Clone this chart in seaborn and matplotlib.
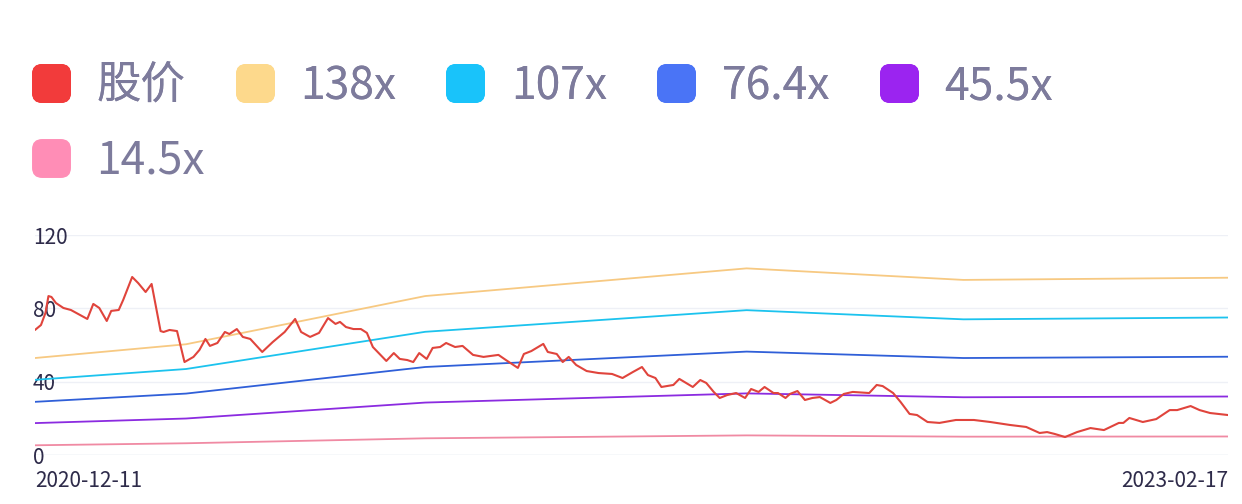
import numpy as np
import pandas as pd
import seaborn as sns
import matplotlib.pyplot as plt
from matplotlib.lines import Line2D
from matplotlib.patches import FancyBboxPatch

# ---- data ----
start_date = pd.Timestamp('2020-12-11')
end_date = pd.Timestamp('2023-02-17')

# days since 2020-12-11, and share price
price_days = [0, 4, 7, 9, 11, 14, 19, 24, 30, 35, 39, 43, 48, 51, 56, 59, 65, 69, 74, 78,
              84, 86, 90, 95, 100, 106, 110, 114, 117, 122, 127, 130, 135, 139, 144, 152,
              159, 167, 174, 178, 184, 190, 196, 201, 204, 208, 213, 218, 222, 226, 235,
              240, 244, 249, 253, 257, 262, 266, 271, 275, 281, 286, 293, 300, 310, 315,
              323, 327, 332, 340, 343, 349, 353, 357, 362, 369, 377, 386, 393, 400, 406,
              410, 415, 419, 427, 431, 440, 445, 449, 454, 458, 463, 469, 475, 479, 484,
              488, 494, 497, 502, 505, 510, 515, 520, 525, 532, 536, 541, 547, 558, 563,
              567, 574, 579, 585, 590, 597, 605, 616, 628, 639, 652, 663, 672, 677, 682,
              689, 697, 706, 715, 725, 728, 732, 741, 750, 759, 764, 773, 779, 786, 798]
price_vals = [68.2, 70.9, 77.5, 86.7, 86.2, 82.9, 80.2, 79.1, 76.4, 74.2, 82.4, 80.2, 73.1,
              78.6, 79.1, 84.6, 97.1, 93.8, 88.9, 93.3, 67.6, 67.1, 68.2, 67.6, 50.7, 53.5,
              57.3, 63.3, 59.5, 61.1, 67.1, 66.0, 68.7, 64.4, 63.3, 56.2, 61.6, 67.1, 74.2,
              67.1, 64.4, 66.6, 74.7, 71.5, 72.6, 69.8, 68.7, 68.7, 66.6, 58.9, 51.3, 55.6,
              52.4, 51.8, 50.7, 55.6, 52.4, 58.4, 58.9, 61.1, 58.9, 59.5, 54.6, 53.5, 54.6,
              51.8, 47.5, 55.1, 56.7, 60.6, 56.2, 55.1, 50.7, 53.5, 49.1, 45.8, 44.7, 44.2,
              42.0, 45.3, 48.0, 43.6, 42.0, 37.1, 38.2, 41.5, 37.1, 40.9, 39.3, 34.4, 31.1,
              32.7, 33.8, 31.1, 36.0, 34.4, 37.1, 33.8, 33.8, 31.1, 33.3, 34.9, 30.0, 31.1,
              31.6, 28.4, 30.0, 33.3, 34.4, 33.8, 38.2, 37.6, 33.8, 28.9, 22.4, 21.8, 18.0,
              17.5, 19.1, 19.1, 18.0, 16.4, 15.3, 12.0, 12.5, 11.5, 9.8, 12.5, 14.7, 13.6,
              17.5, 17.5, 20.2, 18.0, 19.6, 24.5, 24.5, 26.7, 24.5, 22.9, 21.8]

# PE band knots (days since start)
band_days = [0, 101, 261, 476, 621, 798]
band_labels = ['138x', '107x', '76.4x', '45.5x', '14.5x']
band_138 = [52.9, 60.4, 86.7, 101.8, 95.5, 96.7]
band_107 = [41.0, 46.9, 67.2, 79.0, 74.0, 75.0]
band_764 = [29.0, 33.5, 48.0, 56.4, 52.9, 53.6]
band_455 = [17.4, 19.9, 28.6, 33.6, 31.5, 31.9]
band_145 = [5.3, 6.4, 9.1, 10.7, 10.0, 10.1]

price_label = '股价'
y_ticks = [0, 40, 80, 120]

# ---- styling ----
line_colors = ['#e0443c', '#f7c982', '#1cc3ee', '#2f5fd8', '#8b2be0', '#f08aa3']
legend_colors = ['#f23b3b', '#fdd98c', '#19c3fa', '#4a74f6', '#9b24f0', '#ff8db6']
text_color = '#7d7b9c'
tick_color = '#2e2b4a'

sns.set_theme(style='white')
plt.rcParams['font.family'] = ['Noto Sans CJK SC', 'DejaVu Sans']

price_df = pd.DataFrame({
    'date': start_date + pd.to_timedelta(price_days, unit='D'),
    'value': price_vals,
})
band_df = pd.DataFrame({
    'date': np.tile(start_date + pd.to_timedelta(band_days, unit='D'), 5),
    'value': band_138 + band_107 + band_764 + band_455 + band_145,
    'band': np.repeat(band_labels, len(band_days)),
})

fig = plt.figure(figsize=(12.42, 5.04), dpi=100, facecolor='white')
ax = fig.add_axes([35 / 1242, 49 / 504, 1193 / 1242, 220 / 504])

sns.lineplot(data=band_df, x='date', y='value', hue='band', hue_order=band_labels,
             palette=line_colors[1:], linewidth=1.3, legend=False, ax=ax)
sns.lineplot(data=price_df, x='date', y='value', color=line_colors[0],
             linewidth=1.5, legend=False, ax=ax)

ax.set_xlim(start_date, end_date)
ax.set_ylim(0, 120)
ax.set_yticks(y_ticks)
ax.set_yticklabels([str(t) for t in y_ticks])
ax.grid(axis='y', color='#eef0f6', linewidth=1)
ax.set_axisbelow(True)
for s in ax.spines.values():
    s.set_visible(False)
ax.axhline(0, color='#e4e7f0', linewidth=1, zorder=0)
ax.tick_params(axis='y', length=0, pad=1.5, labelsize=15, labelcolor=tick_color)
for lab in ax.get_yticklabels():
    lab.set_horizontalalignment('left')

ax.set_xticks([start_date, end_date])
ax.set_xticklabels(['2020-12-11', '2023-02-17'])
ax.tick_params(axis='x', length=0, pad=11, labelsize=15, labelcolor=tick_color)
xl = ax.get_xticklabels()
xl[0].set_horizontalalignment('left')
xl[1].set_horizontalalignment('right')
ax.set_xlabel('')
ax.set_ylabel('')

# ---- legend with rounded-square markers ----
rounded = FancyBboxPatch((-1, -1), 2, 2,
                         boxstyle='round,pad=0,rounding_size=0.5').get_path()
names = [price_label] + band_labels
handles = [Line2D([], [], linestyle='none', marker=rounded, markersize=27,
                  markerfacecolor=c, markeredgecolor=c) for c in legend_colors]

leg1 = fig.legend(handles[:5], names[:5], ncol=5, loc='center left',
                  bbox_to_anchor=(32 / 1242, 1 - 86 / 504), frameon=False,
                  fontsize=32, labelcolor=text_color, handlelength=0.85,
                  handletextpad=0.6, columnspacing=1.13, borderpad=0,
                  borderaxespad=0)
leg2 = fig.legend(handles[5:], names[5:], ncol=1, loc='center left',
                  bbox_to_anchor=(32 / 1242, 1 - 161 / 504), frameon=False,
                  fontsize=32, labelcolor=text_color, handlelength=0.85,
                  handletextpad=0.6, borderpad=0, borderaxespad=0)
fig.add_artist(leg1)

fig.savefig('out.png', dpi=100, facecolor='white')
